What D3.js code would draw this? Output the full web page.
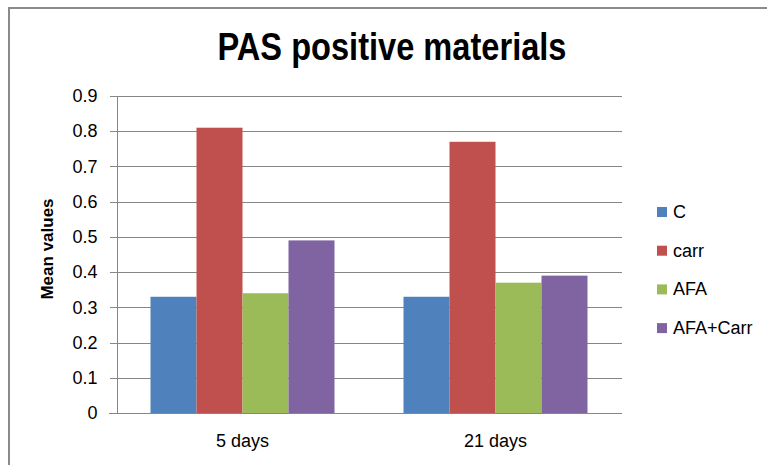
<!DOCTYPE html>
<meta charset="utf-8">
<style>
body { margin: 0; background: #fff; }
svg text { font-family: "Liberation Sans", Arial, sans-serif; fill: #000; }
.grid line { stroke: #868686; stroke-width: 1; shape-rendering: crispEdges; }
.axis path, .axis line { stroke: #868686; shape-rendering: crispEdges; }
</style>
<body>
<script src="https://cdn.jsdelivr.net/npm/d3@7"></script>
<script>

// chart data
var categories = ["5 days", "21 days"];
var seriesNames = ["C", "carr", "AFA", "AFA+Carr"];
var seriesColors = ["#4f81bd", "#c0504d", "#9bbb59", "#8064a2"];
var valuesC = [0.33, 0.33];
var valuesCarr = [0.81, 0.77];
var valuesAFA = [0.34, 0.37];
var valuesAFACarr = [0.49, 0.39];
var yTicks = [0, 0.1, 0.2, 0.3, 0.4, 0.5, 0.6, 0.7, 0.8, 0.9];

var seriesValues = [valuesC, valuesCarr, valuesAFA, valuesAFACarr];

var W = 767, H = 465,
    plot = {left: 116, right: 622, top: 96, bottom: 413};

var svg = d3.select("body").append("svg")
    .attr("width", W)
    .attr("height", H);

// outer chart border (only top and left are visible in the picture)
svg.append("rect")
    .attr("x", 9).attr("y", 8)
    .attr("width", 820).attr("height", 520)
    .attr("fill", "none")
    .attr("stroke", "#8a8a8a")
    .attr("stroke-width", 2);

var x0 = d3.scaleBand().domain(categories).range([plot.left, plot.right]);
var x1 = d3.scaleBand().domain(seriesNames).range([0, x0.bandwidth()])
    .paddingInner(0).paddingOuter(0.75);
var y = d3.scaleLinear().domain([0, 0.9]).range([plot.bottom, plot.top]);

// gridlines
svg.append("g")
    .attr("class", "grid")
  .selectAll("line")
    .data(yTicks.slice(1))
  .enter().append("line")
    .attr("x1", plot.left).attr("x2", plot.right)
    .attr("y1", function(d) { return Math.round(y(d)) + 0.5; })
    .attr("y2", function(d) { return Math.round(y(d)) + 0.5; });

// bars
var group = svg.selectAll(".cat")
    .data(categories)
  .enter().append("g")
    .attr("class", "cat")
    .attr("transform", function(d) { return "translate(" + x0(d) + ",0)"; });

group.selectAll("rect")
    .data(function(d, i) {
      return seriesNames.map(function(s, j) { return {s: s, v: seriesValues[j][i], c: seriesColors[j]}; });
    })
  .enter().append("rect")
    .attr("x", function(d) { return x1(d.s); })
    .attr("y", function(d) { return y(d.v); })
    .attr("width", x1.bandwidth())
    .attr("height", function(d) { return y(0) - y(d.v); })
    .attr("fill", function(d) { return d.c; });

// y axis
var yAxis = svg.append("g")
    .attr("class", "axis")
    .attr("transform", "translate(" + (plot.left + 0.5) + ",0)")
    .call(d3.axisLeft(y).tickValues(yTicks).tickSize(7).tickPadding(12)
      .tickFormat(function(d) { return d === 0 ? "0" : d3.format(".1f")(d); }));
yAxis.select(".domain").attr("stroke", "#b4b4b4");
yAxis.selectAll("text").style("font-size", "18px");

// x axis baseline
svg.append("line")
    .attr("x1", plot.left - 7).attr("x2", plot.right)
    .attr("y1", Math.round(y(0)) + 0.5).attr("y2", Math.round(y(0)) + 0.5)
    .attr("stroke", "#868686");

// x labels
svg.selectAll(".xlab")
    .data(categories)
  .enter().append("text")
    .attr("class", "xlab")
    .attr("x", function(d) { return x0(d) + x0.bandwidth() / 2; })
    .attr("y", plot.bottom + 34)
    .attr("text-anchor", "middle")
    .style("font-size", "18px")
    .text(function(d) { return d; });

// title
svg.append("text")
    .attr("x", 392)
    .attr("y", 60)
    .attr("text-anchor", "middle")
    .attr("textLength", 349)
    .attr("lengthAdjust", "spacingAndGlyphs")
    .style("font-size", "38px")
    .style("font-weight", "bold")
    .text("PAS positive materials");

// y axis title
svg.append("text")
    .attr("transform", "translate(53,249) rotate(-90)")
    .attr("text-anchor", "middle")
    .style("font-size", "17px")
    .style("font-weight", "bold")
    .text("Mean values");

// legend
var legend = svg.selectAll(".legend")
    .data(seriesNames)
  .enter().append("g")
    .attr("class", "legend")
    .attr("transform", function(d, i) { return "translate(657," + (212 + i * 38.7) + ")"; });

legend.append("rect")
    .attr("x", 0).attr("y", -5)
    .attr("width", 10).attr("height", 10)
    .attr("fill", function(d, i) { return seriesColors[i]; });

legend.append("text")
    .attr("x", 16)
    .attr("y", 6)
    .style("font-size", "18px")
    .text(function(d) { return d; });

</script>
</body>
